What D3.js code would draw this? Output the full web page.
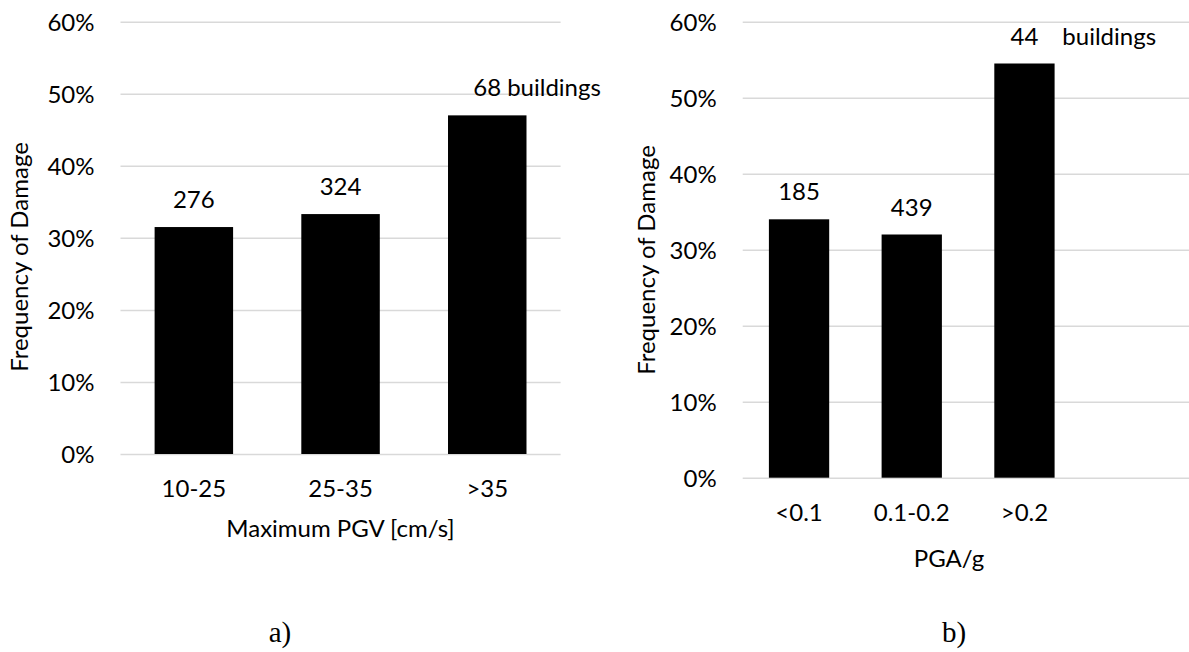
<!DOCTYPE html>
<html>
<head>
<meta charset="utf-8">
<script src="https://cdn.jsdelivr.net/npm/d3@7"></script>
<style>
  html, body { margin: 0; padding: 0; background: #fff; }
  svg { display: block; }
  text { font-family: Lato, "Open Sans", sans-serif; fill: #000; }
</style>
</head>
<body>
<svg id="chart" width="1189" height="652"></svg>
<script>
// Damage frequency by peak ground velocity (panel a)
const pgvCategories = ["10-25", "25-35", ">35"];
const pgvFrequency = [0.315, 0.333, 0.47];
const pgvCounts = ["276", "324", "68"];
const pgvNotes = ["", "", "buildings"];

// Damage frequency by peak ground acceleration (panel b)
const pgaCategories = ["<0.1", "0.1-0.2", ">0.2"];
const pgaFrequency = [0.34, 0.32, 0.545];
const pgaCounts = ["185", "439", "44"];
const pgaNotes = ["", "", "buildings"];

const yTickValues = [0, 0.1, 0.2, 0.3, 0.4, 0.5, 0.6];
const yTitle = "Frequency of Damage";

const svg = d3.select("#chart");
const FS = 24;

const panels = [
  {
    cats: pgvCategories, vals: pgvFrequency, counts: pgvCounts, notes: pgvNotes,
    slots: 3, x0: 120.5, x1: 560.6, y0: 454, y1: 21.7,
    xTitle: "Maximum PGV [cm/s]", xTitleX: 340.5, xTitleY: 537,
    yTitleX: 27.5, yTitleY: 257, noteGap: 6,
    caption: "a)", captionX: 280
  },
  {
    cats: pgaCategories, vals: pgaFrequency, counts: pgaCounts, notes: pgaNotes,
    slots: 4, x0: 742.7, x1: 1193.5, y0: 477.7, y1: 21.7,
    xTitle: "PGA/g", xTitleX: 949, xTitleY: 567,
    yTitleX: 655, yTitleY: 260, noteGap: 24,
    caption: "b)", captionX: 954
  }
];

panels.forEach(p => {
  const g = svg.append("g");
  const domain = p.cats.slice();
  while (domain.length < p.slots) domain.push(" ".repeat(domain.length));

  const x = d3.scaleBand().domain(domain).range([p.x0, p.x1])
    .paddingInner(0.465).paddingOuter(0.2325);
  const y = d3.scaleLinear().domain([0, 0.6]).range([p.y0, p.y1]);

  // horizontal gridlines + percentage labels
  const yAxis = g.append("g")
    .attr("transform", `translate(${p.x0},0)`)
    .call(d3.axisLeft(y).tickValues(yTickValues)
      .tickFormat(d3.format(".0%"))
      .tickSize(-(p.x1 - p.x0)).tickPadding(26));
  yAxis.select(".domain").remove();
  yAxis.selectAll(".tick line").attr("stroke", "#d9d9d9").attr("stroke-width", 1.5);
  yAxis.selectAll(".tick text").attr("font-size", FS).attr("dy", "0.35em")
    .attr("font-family", "Lato, 'Open Sans', sans-serif").attr("fill", "#000");

  // bars
  g.selectAll("rect.bar").data(p.vals).enter().append("rect")
    .attr("class", "bar")
    .attr("x", (d, i) => x(p.cats[i]))
    .attr("width", x.bandwidth())
    .attr("y", d => y(d))
    .attr("height", d => y(0) - y(d))
    .attr("fill", "#000");

  // category labels
  const xAxis = g.append("g")
    .attr("transform", `translate(0,${p.y0})`)
    .call(d3.axisBottom(x).tickSize(0).tickPadding(26)
      .tickFormat(d => p.cats.includes(d) ? d : ""));
  xAxis.select(".domain").remove();
  xAxis.selectAll(".tick text").attr("font-size", FS)
    .attr("font-family", "Lato, 'Open Sans', sans-serif").attr("fill", "#000");

  // building counts above bars
  const counts = g.selectAll("text.count").data(p.vals).enter().append("text")
    .attr("class", "count")
    .attr("x", (d, i) => x(p.cats[i]) + x.bandwidth() / 2)
    .attr("y", d => y(d) - 19)
    .attr("text-anchor", "middle")
    .attr("font-size", FS)
    .text((d, i) => p.counts[i]);

  counts.each(function (d, i) {
    if (!p.notes[i]) return;
    const w = this.getComputedTextLength();
    g.append("text")
      .attr("x", x(p.cats[i]) + x.bandwidth() / 2 + w / 2 + p.noteGap)
      .attr("y", y(d) - 19)
      .attr("font-size", FS)
      .text(p.notes[i]);
  });

  // axis titles
  g.append("text")
    .attr("x", p.xTitleX).attr("y", p.xTitleY)
    .attr("text-anchor", "middle").attr("font-size", FS)
    .text(p.xTitle);

  g.append("text")
    .attr("transform", `translate(${p.yTitleX},${p.yTitleY}) rotate(-90)`)
    .attr("text-anchor", "middle").attr("font-size", FS)
    .text(yTitle);

  // panel caption
  g.append("text")
    .attr("x", p.captionX).attr("y", 642)
    .attr("text-anchor", "middle")
    .attr("font-size", 29)
    .style("font-family", "'Liberation Serif', 'DejaVu Serif', serif")
    .text(p.caption);
});
</script>
</body>
</html>
